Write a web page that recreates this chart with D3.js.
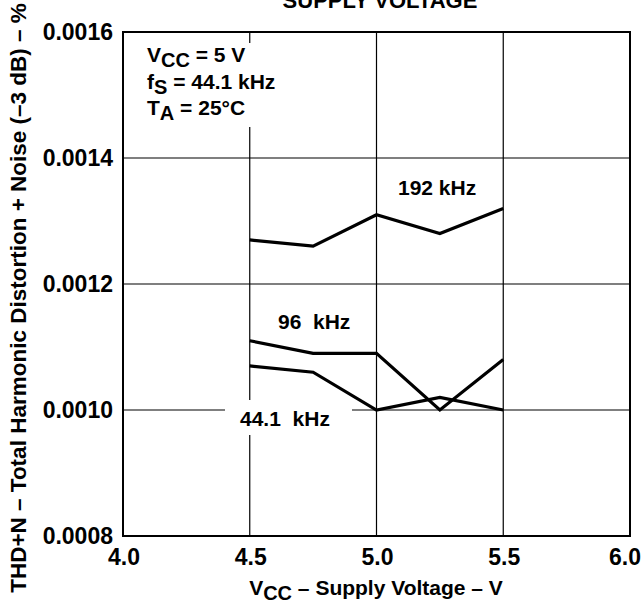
<!DOCTYPE html>
<html>
<head>
<meta charset="utf-8">
<script src="https://cdn.jsdelivr.net/npm/d3@7"></script>
<style>
  html, body { margin: 0; padding: 0; background: #fff; }
  svg { display: block; }
  text { font-family: "Liberation Sans", Arial, Helvetica, sans-serif; font-weight: bold; fill: #000; }
</style>
</head>
<body>
<svg id="chart" width="644" height="606"></svg>
<script>
// Supply voltage points (V)
const vcc = [4.5, 4.75, 5.0, 5.25, 5.5];
// THD+N (%) for each output sample rate
const thd192 = [0.00127, 0.00126, 0.00131, 0.00128, 0.00132];
const thd96  = [0.00111, 0.00109, 0.00109, 0.00100, 0.00108];
const thd441 = [0.00107, 0.00106, 0.00100, 0.00102, 0.00100];
const seriesNames = ["192 kHz", "96  kHz", "44.1  kHz"];

const xTicks = [4.0, 4.5, 5.0, 5.5, 6.0];
const yTicks = [0.0008, 0.0010, 0.0012, 0.0014, 0.0016];

const W = 644;
const svg = d3.select("#chart");
const plotL = 123, plotR = 630, plotT = 32, plotB = 536;

const x = d3.scaleLinear().domain([4.0, 6.0]).range([plotL, plotR]);
const y = d3.scaleLinear().domain([0.0008, 0.0016]).range([plotB, plotT]);

// grid
const grid = svg.append("g");
grid.selectAll("line.v").data(xTicks.slice(1, -1)).join("line")
  .attr("x1", d => x(d)).attr("x2", d => x(d))
  .attr("y1", plotT).attr("y2", plotB)
  .attr("stroke", "#000").attr("stroke-width", 1.2);
grid.selectAll("line.h").data(yTicks.slice(1, -1)).join("line")
  .attr("x1", plotL).attr("x2", plotR)
  .attr("y1", d => y(d)).attr("y2", d => y(d))
  .attr("stroke", "#000").attr("stroke-width", 1.2);

// white backings that break the grid behind text blocks
svg.append("rect").attr("x", plotL + 1).attr("y", 43).attr("width", 170).attr("height", 84).attr("fill", "#fff");
svg.append("rect").attr("x", 225).attr("y", 400).attr("width", 127).attr("height", 35).attr("fill", "#fff");

// frame
svg.append("rect").attr("x", plotL).attr("y", plotT)
  .attr("width", plotR - plotL).attr("height", plotB - plotT)
  .attr("fill", "none").attr("stroke", "#000").attr("stroke-width", 2);

// curves
const line = d3.line().x((d, i) => x(vcc[i])).y(d => y(d));
[thd192, thd96, thd441].forEach(s => {
  svg.append("path").datum(s).attr("d", line)
    .attr("fill", "none").attr("stroke", "#000")
    .attr("stroke-width", 3.2).attr("stroke-linejoin", "miter");
});

// axis tick labels
svg.selectAll("text.yt").data(yTicks).join("text")
  .attr("x", plotL - 10).attr("y", d => y(d)).attr("dy", "0.36em")
  .attr("text-anchor", "end").attr("font-size", 23)
  .text(d => d.toFixed(4));
svg.selectAll("text.xt").data(xTicks).join("text")
  .attr("y", 565)
  .attr("text-anchor", "middle").attr("font-size", 23)
  .text(d => d.toFixed(1))
  .attr("x", function(d) {
    const w = this.getComputedTextLength();
    return Math.min(x(d) + 1, W - w / 2 - 3);
  });

// axis titles
const xt = svg.append("text").attr("x", 376).attr("y", 595)
  .attr("text-anchor", "middle").attr("font-size", 21);
xt.append("tspan").text("V");
xt.append("tspan").attr("dy", 5).attr("font-size", 20).text("CC");
xt.append("tspan").attr("dy", -5).text(" – Supply Voltage – V");

svg.append("text")
  .attr("transform", "translate(26,298) rotate(-90)")
  .attr("text-anchor", "middle").attr("font-size", 22.5)
  .text("THD+N – Total Harmonic Distortion + Noise (–3 dB) – %");

// chart title (top edge)
svg.append("text").attr("x", 380).attr("y", 8)
  .attr("text-anchor", "middle").attr("font-size", 22)
  .text("SUPPLY VOLTAGE");

// conditions block
const cond = svg.append("g").attr("font-size", 21);
const c1 = cond.append("text").attr("x", 147).attr("y", 62);
c1.append("tspan").text("V");
c1.append("tspan").attr("dy", 5).attr("font-size", 20).text("CC");
c1.append("tspan").attr("dy", -5).text(" = 5 V");
const c2 = cond.append("text").attr("x", 147).attr("y", 89);
c2.append("tspan").text("f");
c2.append("tspan").attr("dy", 5).attr("font-size", 20).text("S");
c2.append("tspan").attr("dy", -5).text(" = 44.1 kHz");
const c3 = cond.append("text").attr("x", 147).attr("y", 115);
c3.append("tspan").text("T");
c3.append("tspan").attr("dy", 5).attr("font-size", 20).text("A");
c3.append("tspan").attr("dy", -5).text(" = 25°C");

// series labels
const labelPos = [[398, 195], [278, 329], [240, 426]];
svg.selectAll("text.sl").data(seriesNames).join("text")
  .attr("x", (d, i) => labelPos[i][0]).attr("y", (d, i) => labelPos[i][1])
  .attr("font-size", 21).style("white-space", "pre")
  .text(d => d);
</script>
</body>
</html>
